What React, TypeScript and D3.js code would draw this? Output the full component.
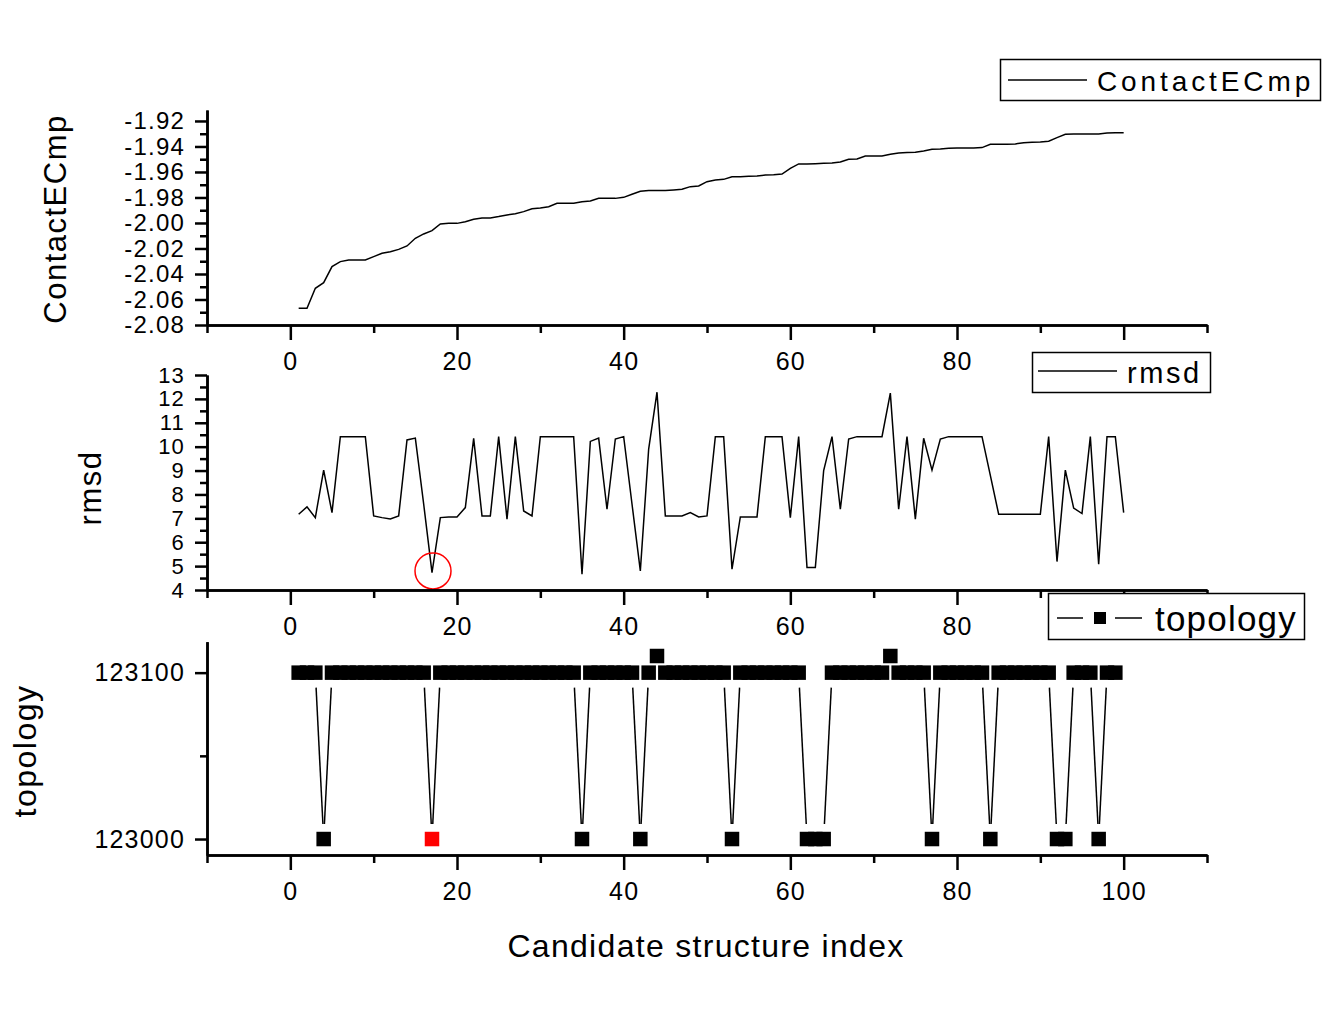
import { useEffect, useRef } from 'react';
import * as d3 from 'd3';

// ContactECmp for candidates 1..100 (sorted)
const contactECmp = [
  -2.0669, -2.0669, -2.0512, -2.0468, -2.0342, -2.0303, -2.0290, -2.0290, -2.0290, -2.0264,
  -2.0238, -2.0225, -2.0207, -2.0180, -2.0120, -2.0086, -2.0060, -2.0008, -2.0003, -2.0003,
  -1.9990, -1.9971, -1.9961, -1.9961, -1.9950, -1.9937, -1.9927, -1.9911, -1.9888, -1.9882,
  -1.9872, -1.9846, -1.9846, -1.9846, -1.9833, -1.9827, -1.9807, -1.9807, -1.9807, -1.9799,
  -1.9775, -1.9752, -1.9746, -1.9746, -1.9746, -1.9741, -1.9736, -1.9715, -1.9710, -1.9676,
  -1.9663, -1.9658, -1.9637, -1.9637, -1.9634, -1.9631, -1.9624, -1.9621, -1.9616, -1.9571,
  -1.9537, -1.9537, -1.9535, -1.9532, -1.9529, -1.9522, -1.9501, -1.9498, -1.9475, -1.9475,
  -1.9475, -1.9461, -1.9451, -1.9448, -1.9446, -1.9435, -1.9422, -1.9420, -1.9414, -1.9412,
  -1.9412, -1.9412, -1.9409, -1.9383, -1.9383, -1.9383, -1.9380, -1.9370, -1.9367, -1.9365,
  -1.9359, -1.9331, -1.9305, -1.9302, -1.9302, -1.9302, -1.9302, -1.9294, -1.9292, -1.9292,
];

const rmsd = [
  7.17, 7.48, 7.03, 9.02, 7.24, 10.42, 10.42, 10.42, 10.42, 7.10,
  7.03, 6.97, 7.10, 10.28, 10.36, 7.6, 4.73, 7.03, 7.06, 7.06,
  7.45, 10.35, 7.10, 7.10, 10.42, 6.97, 10.42, 7.31, 7.10, 10.42,
  10.42, 10.42, 10.42, 10.42, 4.66, 10.22, 10.36, 7.38, 10.32, 10.42,
  7.6, 4.80, 9.9, 12.28, 7.10, 7.10, 7.10, 7.24, 7.06, 7.10,
  10.42, 10.42, 4.87, 7.06, 7.06, 7.06, 10.42, 10.42, 10.42, 7.03,
  10.42, 4.94, 4.94, 9.0, 10.42, 7.38, 10.32, 10.42, 10.42, 10.42,
  10.42, 12.24, 7.38, 10.42, 6.97, 10.35, 9.02, 10.32, 10.42, 10.42,
  10.42, 10.42, 10.42, 8.8, 7.17, 7.17, 7.17, 7.17, 7.17, 7.17,
  10.42, 5.19, 9.02, 7.43, 7.20, 10.42, 5.08, 10.42, 10.42, 7.24,
];

// topology for candidates 1..99
const topology = [
  123100, 123100, 123100, 123000, 123100, 123100, 123100, 123100, 123100, 123100,
  123100, 123100, 123100, 123100, 123100, 123100, 123000, 123100, 123100, 123100,
  123100, 123100, 123100, 123100, 123100, 123100, 123100, 123100, 123100, 123100,
  123100, 123100, 123100, 123100, 123000, 123100, 123100, 123100, 123100, 123100,
  123100, 123000, 123100, 123110, 123100, 123100, 123100, 123100, 123100, 123100,
  123100, 123100, 123000, 123100, 123100, 123100, 123100, 123100, 123100, 123100,
  123100, 123000, 123000, 123000, 123100, 123100, 123100, 123100, 123100, 123100,
  123100, 123110, 123100, 123100, 123100, 123100, 123000, 123100, 123100, 123100,
  123100, 123100, 123100, 123000, 123100, 123100, 123100, 123100, 123100, 123100,
  123100, 123000, 123000, 123100, 123100, 123100, 123000, 123100, 123100,
];

const bestIndex = 17;

const xMajor = [0, 20, 40, 60, 80, 100];
const xMinor = [-10, 10, 30, 50, 70, 90, 110];
const contactMajor = [-2.08, -2.06, -2.04, -2.02, -2.0, -1.98, -1.96, -1.94, -1.92];
const contactMinor = [-2.07, -2.05, -2.03, -2.01, -1.99, -1.97, -1.95, -1.93];
const rmsdMajor = [4, 5, 6, 7, 8, 9, 10, 11, 12, 13];
const rmsdMinor = [4.5, 5.5, 6.5, 7.5, 8.5, 9.5, 10.5, 11.5, 12.5];
const topoMajor = [123000, 123100];
const topoMinor = [123050];

const FONT = "'Liberation Sans', Arial, sans-serif";

function App() {
  const ref = useRef(null);
  const width = 1328;
  const height = 1024;

  useEffect(() => {
    const svg = d3.select(ref.current);
    svg.selectAll('*').remove();

    const x = d3.scaleLinear().domain([-10, 110]).range([207, 1207]);
    const yC = d3.scaleLinear().domain([-2.08, -1.9114]).range([325, 110]);
    const yR = d3.scaleLinear().domain([4, 13]).range([590, 375]);
    const yT = d3.scaleLinear().domain([122990.4, 123118.6]).range([855, 641.7]);

    const styleAxis = (g, labelSize) => {
      g.attr('font-family', FONT).attr('font-size', labelSize);
      g.selectAll('path.domain').attr('stroke', '#000').attr('stroke-width', 2.5);
      g.selectAll('line').attr('stroke', '#000').attr('stroke-width', 2.5);
      g.selectAll('text').attr('fill', '#000').attr('letter-spacing', 1.2);
    };

    // the last major label is covered by a legend in the upper panels
    const xAxis = (y0, labelLast) => {
      const maj = svg.append('g').attr('transform', `translate(0,${y0})`)
        .call(d3.axisBottom(x).tickValues(xMajor).tickSize(15).tickPadding(12)
          .tickSizeOuter(0)
          .tickFormat((d) => (labelLast || d !== xMajor[xMajor.length - 1] ? d3.format('d')(d) : '')));
      styleAxis(maj, 25);
      const min = svg.append('g').attr('transform', `translate(0,${y0})`)
        .call(d3.axisBottom(x).tickValues(xMinor).tickSize(8).tickSizeOuter(0).tickFormat(() => ''));
      styleAxis(min, 25);
    };

    const yAxis = (scale, major, minor, fmt, size) => {
      const maj = svg.append('g').attr('transform', 'translate(207,0)')
        .call(d3.axisLeft(scale).tickValues(major).tickSize(12).tickPadding(10)
          .tickSizeOuter(0).tickFormat(fmt));
      styleAxis(maj, size);
      const min = svg.append('g').attr('transform', 'translate(207,0)')
        .call(d3.axisLeft(scale).tickValues(minor).tickSize(7).tickSizeOuter(0).tickFormat(() => ''));
      styleAxis(min, size);
    };

    // panel 1: ContactECmp
    const lineC = d3.line().x((d, i) => x(i + 1)).y((d) => yC(d));
    svg.append('path').datum(contactECmp).attr('d', lineC)
      .attr('fill', 'none').attr('stroke', '#000').attr('stroke-width', 1.5);
    xAxis(325, false);
    yAxis(yC, contactMajor, contactMinor, (d) => d.toFixed(2), 24);

    // panel 2: rmsd
    const lineR = d3.line().x((d, i) => x(i + 1)).y((d) => yR(d));
    svg.append('path').datum(rmsd).attr('d', lineR)
      .attr('fill', 'none').attr('stroke', '#000').attr('stroke-width', 1.5);
    svg.append('circle')
      .attr('cx', x(bestIndex) + 1).attr('cy', yR(4.8)).attr('r', 18)
      .attr('fill', 'none').attr('stroke', '#ff0000').attr('stroke-width', 1.5);
    xAxis(590, false);
    yAxis(yR, rmsdMajor, rmsdMinor, d3.format('d'), 22);

    // panel 3: topology (line with symbol gap, square markers)
    const pts = topology.map((v, i) => [x(i + 1), yT(v)]);
    const gap = 15;
    const segs = [];
    for (let i = 0; i < pts.length - 1; i += 1) {
      const [x0, y0] = pts[i];
      const [x1, y1] = pts[i + 1];
      const len = Math.hypot(x1 - x0, y1 - y0);
      if (len > gap * 2 + 2) {
        const ux = (x1 - x0) / len;
        const uy = (y1 - y0) / len;
        segs.push([x0 + ux * gap, y0 + uy * gap, x1 - ux * gap, y1 - uy * gap]);
      }
    }
    svg.append('g').selectAll('line').data(segs).enter().append('line')
      .attr('x1', (d) => d[0]).attr('y1', (d) => d[1])
      .attr('x2', (d) => d[2]).attr('y2', (d) => d[3])
      .attr('stroke', '#000').attr('stroke-width', 1.5);
    const sq = 14.5;
    svg.append('g').selectAll('rect').data(topology).enter().append('rect')
      .attr('x', (d, i) => x(i + 1) - sq / 2)
      .attr('y', (d) => yT(d) - sq / 2)
      .attr('width', sq).attr('height', sq)
      .attr('fill', (d, i) => (i + 1 === bestIndex ? '#ff0000' : '#000'));
    xAxis(855, true);
    yAxis(yT, topoMajor, topoMinor, d3.format('d'), 25);

    // axis titles
    const title = (tx, ty, rot, text, size, spacing) => {
      svg.append('text')
        .attr('transform', `translate(${tx},${ty}) rotate(${rot})`)
        .attr('text-anchor', 'middle')
        .attr('font-family', FONT).attr('font-size', size)
        .attr('letter-spacing', spacing)
        .attr('fill', '#000')
        .text(text);
    };
    title(66, 219, -90, 'ContactECmp', 31, 1.5);
    title(101, 488, -90, 'rmsd', 31, 1.5);
    title(36, 751, -90, 'topology', 32, 1.5);
    title(706, 957, 0, 'Candidate structure index', 32, 1.3);

    // legends
    const legend = (bx, by, bw, bh) => {
      const g = svg.append('g');
      g.append('rect').attr('x', bx).attr('y', by).attr('width', bw).attr('height', bh)
        .attr('fill', '#fff').attr('stroke', '#000').attr('stroke-width', 1.5);
      return g;
    };
    const lg1 = legend(1000.5, 59.5, 320, 41);
    lg1.append('line').attr('x1', 1008).attr('x2', 1087).attr('y1', 80).attr('y2', 80)
      .attr('stroke', '#000').attr('stroke-width', 1.5);
    lg1.append('text').attr('x', 1097).attr('y', 91).attr('font-family', FONT)
      .attr('font-size', 28).attr('letter-spacing', 3.9).text('ContactECmp');

    const lg2 = legend(1032.5, 352.5, 178, 40);
    lg2.append('line').attr('x1', 1038).attr('x2', 1117).attr('y1', 371).attr('y2', 371)
      .attr('stroke', '#000').attr('stroke-width', 1.5);
    lg2.append('text').attr('x', 1127).attr('y', 383).attr('font-family', FONT)
      .attr('font-size', 29).attr('letter-spacing', 2.6).text('rmsd');

    const lg3 = legend(1048.5, 593.5, 256, 46);
    lg3.append('line').attr('x1', 1057).attr('x2', 1083).attr('y1', 618).attr('y2', 618)
      .attr('stroke', '#000').attr('stroke-width', 1.5);
    lg3.append('rect').attr('x', 1094).attr('y', 612).attr('width', 12).attr('height', 12)
      .attr('fill', '#000');
    lg3.append('line').attr('x1', 1115).attr('x2', 1142).attr('y1', 618).attr('y2', 618)
      .attr('stroke', '#000').attr('stroke-width', 1.5);
    lg3.append('text').attr('x', 1155).attr('y', 631).attr('font-family', FONT)
      .attr('font-size', 35).attr('letter-spacing', 1.2).text('topology');
  }, []);

  return (
    <div style={{ position: 'absolute', left: 0, top: 0, background: '#fff' }}>
      <svg width={width} height={height} ref={ref} style={{ display: 'block' }} />
    </div>
  );
}

export default App;
